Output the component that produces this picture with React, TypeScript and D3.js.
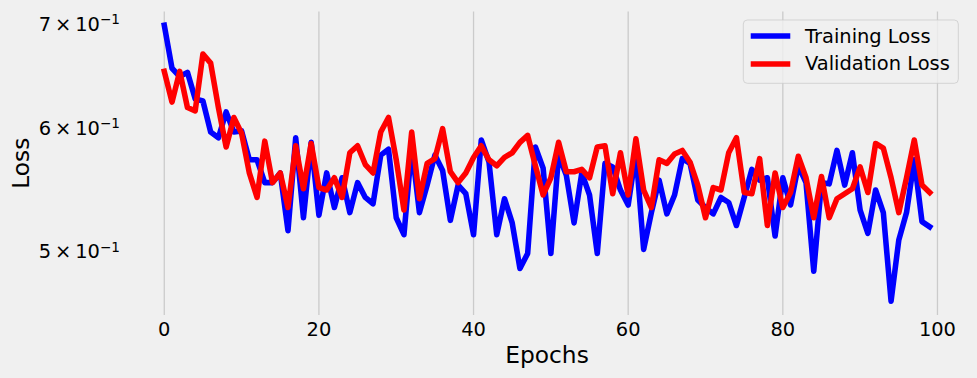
import React from "react";
import * as d3 from "d3";

const trainingLoss = [
  0.698, 0.655, 0.647, 0.651, 0.626, 0.624, 0.596, 0.591, 0.614, 0.596,
  0.597, 0.572, 0.572, 0.553, 0.553, 0.561, 0.515, 0.591, 0.525, 0.587,
  0.527, 0.561, 0.533, 0.557, 0.529, 0.553, 0.541, 0.536, 0.576, 0.581,
  0.525, 0.512, 0.583, 0.529, 0.551, 0.576, 0.563, 0.523, 0.551, 0.544,
  0.512, 0.589, 0.570, 0.512, 0.540, 0.521, 0.487, 0.498, 0.583, 0.565,
  0.498, 0.576, 0.559, 0.521, 0.561, 0.543, 0.498, 0.569, 0.566, 0.547,
  0.535, 0.578, 0.501, 0.529, 0.555, 0.528, 0.543, 0.573, 0.569, 0.539,
  0.533, 0.528, 0.541, 0.537, 0.519, 0.541, 0.564, 0.555, 0.557, 0.511,
  0.557, 0.535, 0.567, 0.553, 0.485, 0.553, 0.552, 0.580, 0.551, 0.578,
  0.531, 0.513, 0.547, 0.529, 0.464, 0.508, 0.529, 0.572, 0.522, 0.518,
];

const validationLoss = [
  0.652, 0.623, 0.652, 0.618, 0.615, 0.669, 0.660, 0.618, 0.583, 0.609,
  0.595, 0.561, 0.541, 0.588, 0.553, 0.561, 0.533, 0.584, 0.548, 0.586,
  0.549, 0.547, 0.557, 0.541, 0.578, 0.584, 0.568, 0.561, 0.596, 0.609,
  0.572, 0.531, 0.596, 0.540, 0.569, 0.573, 0.599, 0.562, 0.553, 0.561,
  0.574, 0.584, 0.572, 0.567, 0.574, 0.578, 0.587, 0.593, 0.567, 0.543,
  0.557, 0.587, 0.562, 0.562, 0.564, 0.557, 0.583, 0.584, 0.544, 0.578,
  0.543, 0.590, 0.547, 0.533, 0.572, 0.569, 0.577, 0.580, 0.570, 0.551,
  0.525, 0.549, 0.547, 0.578, 0.591, 0.545, 0.544, 0.573, 0.519, 0.561,
  0.533, 0.545, 0.575, 0.557, 0.525, 0.558, 0.525, 0.540, 0.544, 0.548,
  0.566, 0.545, 0.586, 0.582, 0.557, 0.529, 0.557, 0.589, 0.551, 0.545,
];

const xTicks = [0, 20, 40, 60, 80, 100];
const yTicks = [0.5, 0.6, 0.7];
const yTickMantissas = ["5", "6", "7"];
const yTickExponent = "\u22121";
const seriesNames = ["Training Loss", "Validation Loss"];
const seriesColors = ["#0000ff", "#ff0000"];

const W = 977;
const H = 378;
const LEFT = 126;
const RIGHT = 968;
const TOP = 11.5;
const BOTTOM = 315;
const FONT = "'DejaVu Sans', sans-serif";
const LW = 5.56;

export default function App() {
  const n = trainingLoss.length;
  const epochs = trainingLoss.map((_, i) => i);
  const xPad = 0.05 * (n - 1);
  const x = d3.scaleLinear().domain([-xPad, n - 1 + xPad]).range([LEFT, RIGHT]);

  const all = [...trainingLoss, ...validationLoss];
  const [lo, hi] = d3.extent(all) as [number, number];
  const pad = 0.05 * Math.log(hi / lo);
  const y = d3
    .scaleLog()
    .domain([lo * Math.exp(-pad), hi * Math.exp(pad)])
    .range([BOTTOM, TOP]);

  const line = d3
    .line<number>()
    .x((_, i) => x(epochs[i]))
    .y((d) => y(d));

  const series = [trainingLoss, validationLoss];

  return (
    <svg
      width={W}
      height={H}
      style={{ position: "absolute", left: 0, top: 0, display: "block" }}
      fontFamily={FONT}
    >
      <rect x={0} y={0} width={W} height={H} fill="#f0f0f0" />
      {xTicks.map((t) => (
        <line
          key={"g" + t}
          x1={x(t)}
          x2={x(t)}
          y1={TOP}
          y2={BOTTOM}
          stroke="#cbcbcb"
          strokeWidth={1.3}
        />
      ))}
      {xTicks.map((t) => (
        <text
          key={"xt" + t}
          x={x(t)}
          y={BOTTOM + 20.5}
          textAnchor="middle"
          fontSize={19.44}
          fill="#000"
        >
          {t}
        </text>
      ))}
      {yTicks.map((t, i) => (
        <text
          key={"yt" + t}
          x={120}
          y={y(t) + 7.6}
          textAnchor="end"
          fontSize={19.44}
          fill="#000"
        >
          <tspan>{yTickMantissas[i]}</tspan>
          <tspan dx={3.9}>×</tspan>
          <tspan dx={3.9}>10</tspan>
          <tspan dy={-6.7} fontSize={13.6}>
            {yTickExponent}
          </tspan>
        </text>
      ))}
      <text
        x={(LEFT + RIGHT) / 2}
        y={363}
        textAnchor="middle"
        fontSize={23.33}
        fill="#000"
      >
        Epochs
      </text>
      <text
        transform={`translate(${29},${(TOP + BOTTOM) / 2}) rotate(-90)`}
        textAnchor="middle"
        fontSize={23.33}
        fill="#000"
      >
        Loss
      </text>
      {series.map((s, i) => (
        <path
          key={"s" + i}
          d={line(s) || ""}
          fill="none"
          stroke={seriesColors[i]}
          strokeWidth={LW}
          strokeLinejoin="round"
          strokeLinecap="square"
        />
      ))}
      <g>
        <rect
          x={743.3}
          y={20}
          width={215}
          height={63.3}
          rx={4}
          ry={4}
          fill="#f0f0f0"
          fillOpacity={0.8}
          stroke="#cccccc"
          strokeOpacity={0.8}
          strokeWidth={1}
        />
        {seriesNames.map((name, i) => (
          <g key={"l" + i}>
            <line
              x1={753.5}
              x2={787.5}
              y1={36 + i * 28}
              y2={36 + i * 28}
              stroke={seriesColors[i]}
              strokeWidth={LW}
              strokeLinecap="square"
            />
            <text x={805} y={42.8 + i * 27.6} fontSize={19.44} fill="#000">
              {name}
            </text>
          </g>
        ))}
      </g>
    </svg>
  );
}
